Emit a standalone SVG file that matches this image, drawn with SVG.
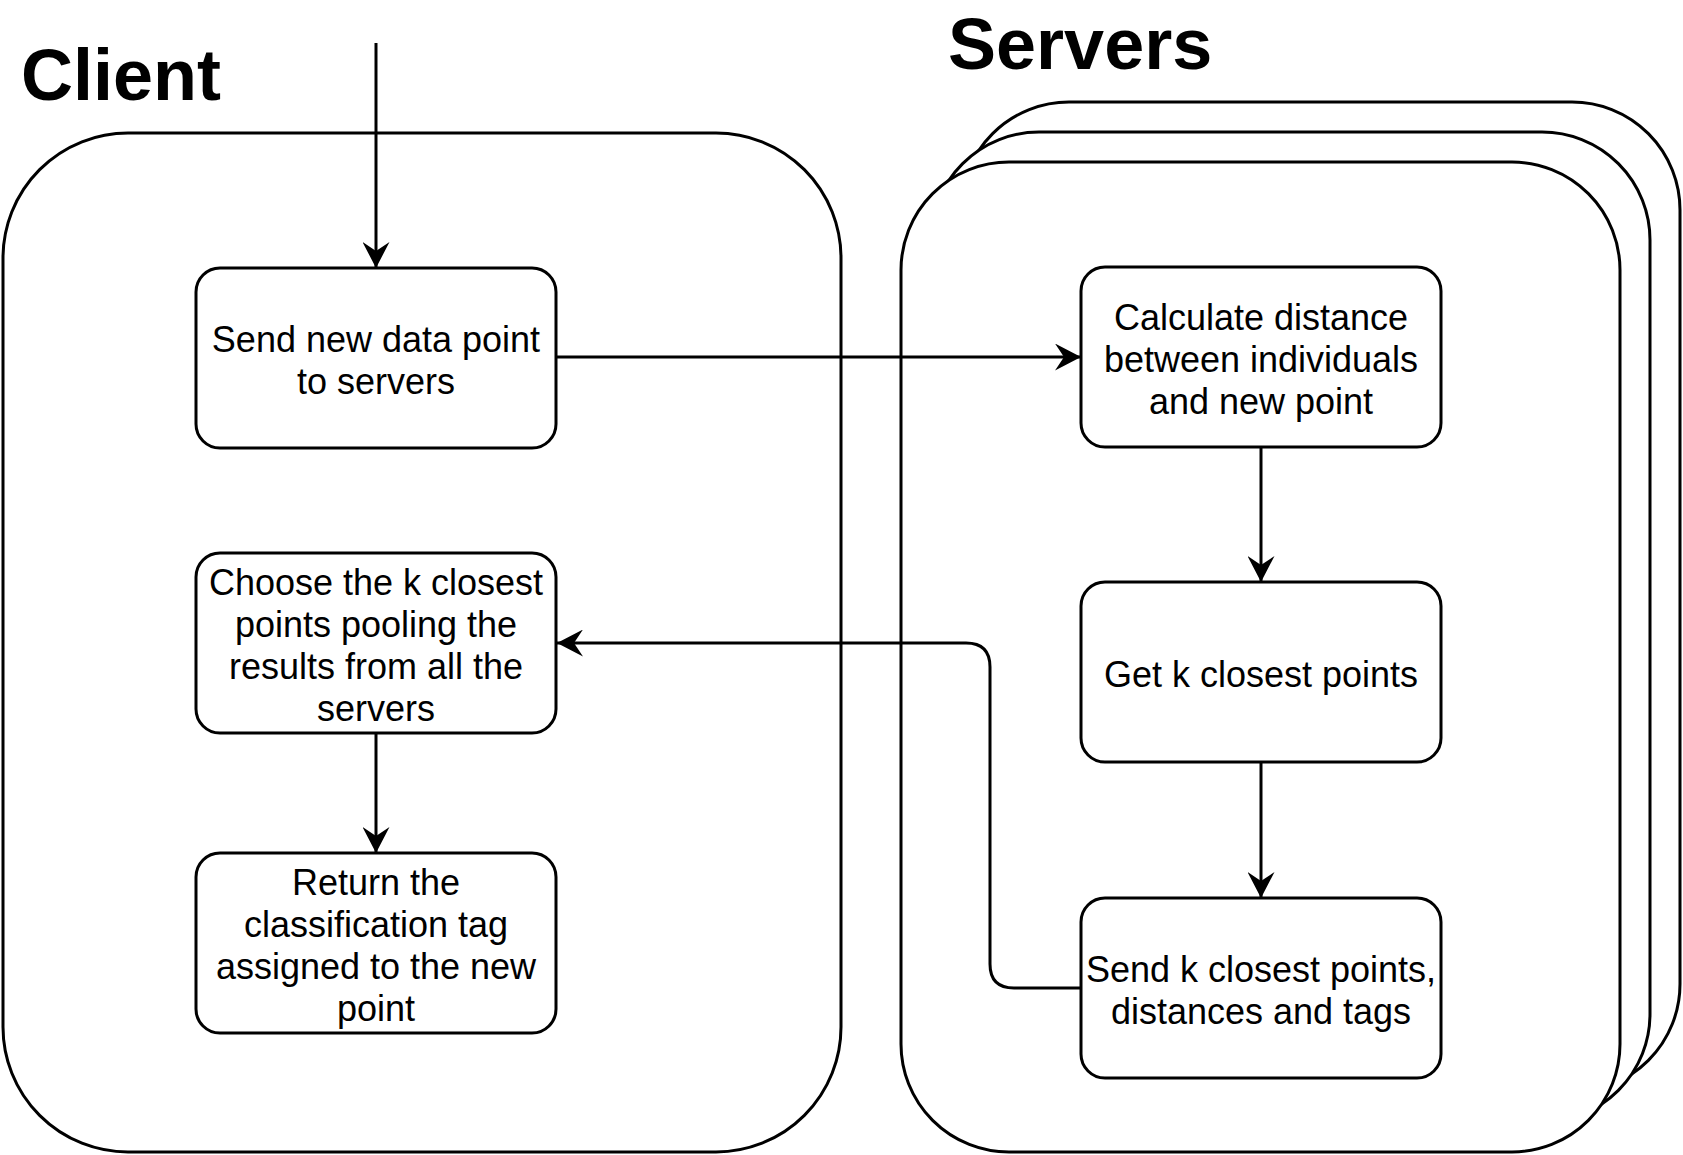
<svg xmlns="http://www.w3.org/2000/svg" width="1683" height="1155" viewBox="0 0 1683 1155">
<style>
.c{fill:#fff;stroke:#000;stroke-width:3}
.b{fill:#fff;stroke:#000;stroke-width:3}
.t{font-family:"Liberation Sans",Arial,Helvetica,sans-serif;font-size:36px;fill:#000;text-anchor:middle}
.h{font-family:"Liberation Sans",Arial,Helvetica,sans-serif;font-size:72px;font-weight:bold;fill:#000}
.e{fill:none;stroke:#000;stroke-width:3;marker-end:url(#a)}
</style>
<defs>
<marker id="a" markerUnits="userSpaceOnUse" markerWidth="26" markerHeight="27" refX="26" refY="13.5" orient="auto" viewBox="0 0 26 27">
<path d="M0,0 L26,13.5 L0,27 L9,13.5 Z" fill="#000"/>
</marker>
</defs>
<g id="client-title"><text class="h" x="21" y="100">Client</text></g>
<g id="servers-title"><text class="h" x="948" y="69">Servers</text></g>
<g id="client-container"><rect class="c" x="3" y="133" width="838" height="1019" rx="125" ry="125"/></g>
<g id="servers-container">
<rect class="c" x="961" y="102" width="719" height="990" rx="108" ry="108"/>
<rect class="c" x="931" y="132" width="719" height="990" rx="108" ry="108"/>
<rect class="c" x="901" y="162" width="719" height="990" rx="108" ry="108"/>
</g>
<g id="send-new">
<rect class="b" x="196" y="268" width="360" height="180" rx="24" ry="24"/>
<text class="t" x="376" y="352">Send new data point</text>
<text class="t" x="376" y="394">to servers</text>
</g>
<g id="choose">
<rect class="b" x="196" y="553" width="360" height="180" rx="24" ry="24"/>
<text class="t" x="376" y="595">Choose the k closest</text>
<text class="t" x="376" y="637">points pooling the</text>
<text class="t" x="376" y="679">results from all the</text>
<text class="t" x="376" y="721">servers</text>
</g>
<g id="return">
<rect class="b" x="196" y="853" width="360" height="180" rx="24" ry="24"/>
<text class="t" x="376" y="895">Return the</text>
<text class="t" x="376" y="937">classification tag</text>
<text class="t" x="376" y="979">assigned to the new</text>
<text class="t" x="376" y="1021">point</text>
</g>
<g id="calculate">
<rect class="b" x="1081" y="267" width="360" height="180" rx="24" ry="24"/>
<text class="t" x="1261" y="330">Calculate distance</text>
<text class="t" x="1261" y="372">between individuals</text>
<text class="t" x="1261" y="414">and new point</text>
</g>
<g id="get-k">
<rect class="b" x="1081" y="582" width="360" height="180" rx="24" ry="24"/>
<text class="t" x="1261" y="687">Get k closest points</text>
</g>
<g id="send-k">
<rect class="b" x="1081" y="898" width="360" height="180" rx="24" ry="24"/>
<text class="t" x="1261" y="982">Send k closest points,</text>
<text class="t" x="1261" y="1024">distances and tags</text>
</g>
<g id="connectors">
<path class="e" d="M376,43 V268"/>
<path class="e" d="M556,357 H1081"/>
<path class="e" d="M1261,447 V582"/>
<path class="e" d="M1261,762 V898"/>
<path class="e" d="M1081,988 H1014 Q990,988 990,964 V667 Q990,643 966,643 H557"/>
<path class="e" d="M376,733 V853"/>
</g>
</svg>
